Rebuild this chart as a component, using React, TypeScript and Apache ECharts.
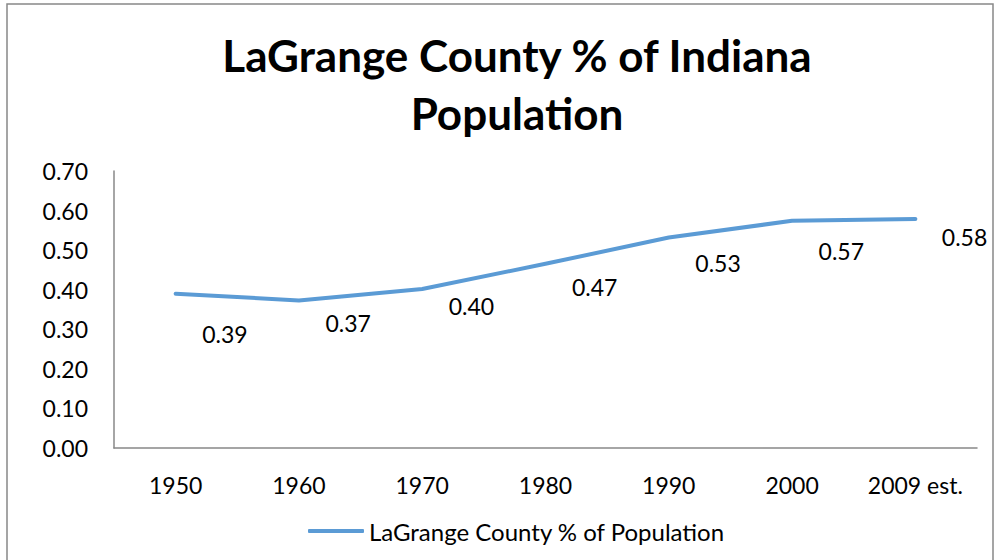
import React, { useEffect, useRef } from "react";
import * as echarts from "echarts";

const categories = ["1950", "1960", "1970", "1980", "1990", "2000", "2009 est."];
const shareValues = [0.39, 0.373, 0.402, 0.4654, 0.532, 0.5741, 0.579];
const yTicks = { min: 0, max: 0.7, interval: 0.1 };
const seriesName = "LaGrange County % of Population";
const titleText = "LaGrange County % of Indiana\nPopulation";
// vertical nudge of each data label below its point (style only)
const labelDy = [40, 23, 17, 23, 26, 30, 18];

export default function App() {
  const ref = useRef<HTMLDivElement>(null);
  useEffect(() => {
    if (!ref.current) return;
    const chart = echarts.init(ref.current, undefined, { renderer: "svg" });
    const font = "Lato, 'Open Sans', sans-serif";
    const data = shareValues.map((v, i) => ({
      value: v,
      label: { offset: [0, labelDy[i]] },
    }));
    chart.setOption({
      animation: false,
      backgroundColor: "#ffffff",
      textStyle: { fontFamily: font },
      graphic: [
        {
          type: "rect",
          shape: { x: 7, y: 4, width: 986, height: 570 },
          style: { fill: "none", stroke: "#888888", lineWidth: 1.5 },
          silent: true,
        },
      ],
      title: {
        text: titleText,
        left: 512,
        top: 21,
        textAlign: "center",
        textStyle: {
          fontFamily: font,
          fontSize: 44,
          fontWeight: "bold",
          color: "#000",
          lineHeight: 58,
        },
      },
      legend: {
        data: [seriesName],
        bottom: 12,
        left: 303,
        itemWidth: 56,
        itemHeight: 4,
        itemGap: 6,
        icon: "roundRect",
        textStyle: { fontFamily: font, fontSize: 24, color: "#000" },
      },
      grid: { left: 114, right: 23, top: 171, bottom: 112, containLabel: false },
      xAxis: {
        type: "category",
        data: categories,
        boundaryGap: true,
        axisLine: { lineStyle: { color: "#888888", width: 1.5 } },
        axisTick: { show: false },
        axisLabel: { color: "#000", fontSize: 23, fontFamily: font, margin: 25, interval: 0 },
      },
      yAxis: {
        type: "value",
        min: yTicks.min,
        max: yTicks.max,
        interval: yTicks.interval,
        splitLine: { show: false },
        axisLine: { show: true, lineStyle: { color: "#888888", width: 1.5 } },
        axisTick: { show: false },
        axisLabel: {
          color: "#000",
          fontSize: 23,
          fontFamily: font,
          margin: 26,
          formatter: (v: number) => v.toFixed(2),
        },
      },
      series: [
        {
          name: seriesName,
          type: "line",
          data,
          showSymbol: true,
          symbol: "circle",
          symbolSize: 1,
          lineStyle: { color: "#5B9BD5", width: 4, cap: "round", join: "round" },
          itemStyle: { color: "#5B9BD5", borderWidth: 0 },
          label: {
            show: true,
            position: "right",
            distance: 26,
            color: "#000",
            fontSize: 23,
            fontFamily: font,
            formatter: (p: any) => Number(p.value).toFixed(2),
          },
        },
      ],
    });
    return () => chart.dispose();
  }, []);
  return (
    <div
      ref={ref}
      style={{ position: "fixed", left: 0, top: 0, width: 1000, height: 560 }}
    />
  );
}
